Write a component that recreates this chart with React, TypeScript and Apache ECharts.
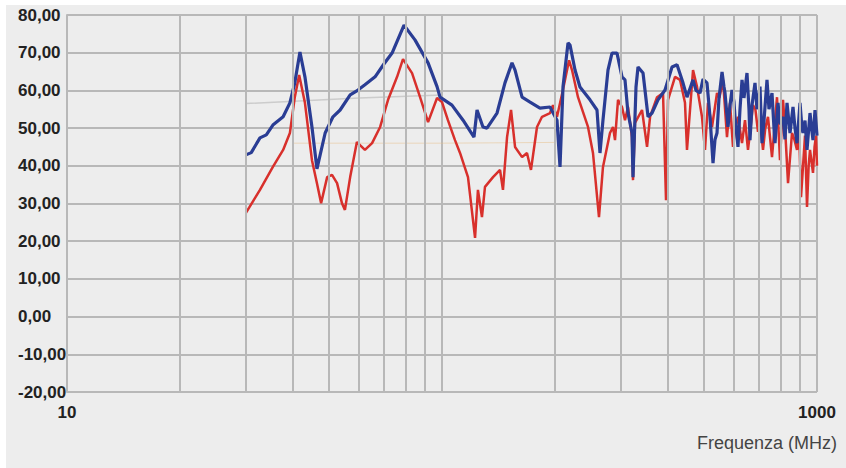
import React, { useEffect, useRef } from "react";
import * as echarts from "echarts";

// Frequency (MHz) and level values
const blueFreq = [30.0, 31.0, 32.7, 34.0, 35.4, 37.7, 39.3, 40.5, 41.8, 43.1, 45.0, 46.4, 48.8, 51.2, 53.5, 56.9, 59.7, 62.3, 66.3, 70.0, 73.6, 79.2, 84.7, 91.8, 97.0, 98.8, 106.3, 113.8, 121.7, 124.0, 128.6, 131.8, 140.2, 147.2, 153.7, 156.6, 163.5, 171.7, 182.5, 194.1, 202.6, 206.4, 210.2, 216.8, 219.5, 226.3, 233.3, 248.1, 259.0, 263.8, 268.7, 277.1, 284.0, 292.9, 302.0, 307.6, 313.3, 321.1, 323.1, 329.1, 333.2, 343.6, 354.4, 363.1, 376.7, 393.3, 410.6, 423.4, 439.2, 450.1, 467.1, 475.7, 487.5, 496.6, 508.9, 515.2, 518.4, 528.1, 534.6, 541.2, 547.9, 558.2, 564.9, 568.5, 579.0, 586.1, 593.3, 600.6, 604.4, 615.6, 623.2, 631.0, 638.6, 650.6, 658.6, 662.7, 670.9, 683.4, 691.8, 704.7, 713.4, 722.2, 735.6, 744.7, 758.6, 767.9, 772.7, 787.1, 796.8, 811.6, 821.5, 831.8, 847.3, 863.0, 873.7, 884.5, 900.9, 912.0, 917.7, 929.0, 940.5, 958.0, 969.8, 975.7, 987.8, 1000];
const blueVal = [42.9, 43.5, 47.4, 48.2, 50.8, 53.0, 56.7, 62.0, 70.2, 63.6, 50.3, 39.2, 48.7, 53.0, 54.8, 58.8, 60.1, 61.5, 63.6, 67.0, 69.9, 77.3, 73.4, 67.3, 61.0, 58.2, 56.1, 52.1, 47.6, 54.8, 50.3, 50.0, 54.0, 62.0, 67.3, 65.4, 58.2, 56.9, 55.3, 55.6, 52.1, 39.7, 60.9, 72.6, 72.0, 65.4, 60.9, 57.5, 54.8, 43.4, 52.1, 65.4, 69.9, 69.9, 63.6, 62.8, 54.0, 48.7, 37.0, 60.9, 66.2, 64.6, 53.0, 54.0, 57.5, 60.1, 66.2, 66.8, 62.0, 58.2, 62.8, 60.0, 59.3, 63.0, 62.0, 56.0, 53.0, 40.7, 47.0, 48.7, 58.0, 64.9, 61.0, 59.3, 50.3, 56.0, 60.1, 57.0, 53.0, 45.0, 55.0, 62.8, 58.0, 64.6, 55.0, 46.8, 56.0, 62.0, 55.0, 61.0, 46.0, 52.0, 62.8, 55.0, 59.3, 50.0, 46.0, 56.7, 51.0, 53.0, 47.0, 56.7, 48.7, 55.6, 50.0, 46.0, 56.7, 50.0, 48.7, 52.0, 44.2, 54.0, 49.0, 46.8, 54.8, 48.0];

const redFreq = [30.0, 32.7, 35.4, 37.7, 39.3, 40.5, 41.6, 43.1, 45.0, 46.4, 47.6, 49.4, 50.9, 52.5, 54.1, 55.1, 56.9, 59.3, 62.3, 65.1, 68.4, 71.8, 75.9, 78.7, 83.2, 87.4, 91.8, 97.0, 100, 103.7, 108.3, 111.7, 117.3, 122.5, 124.7, 127.8, 130.2, 136.8, 142.8, 145.4, 149.1, 152.8, 156.6, 163.5, 168.5, 172.7, 179.2, 184.8, 194.1, 197.7, 202.6, 210.0, 218.2, 222.2, 230.5, 245.1, 252.7, 262.2, 268.7, 280.5, 285.8, 289.3, 294.7, 302.0, 307.6, 313.3, 321.1, 323.1, 327.1, 341.5, 352.2, 358.8, 374.5, 388.5, 395.7, 400.6, 418.2, 431.2, 444.6, 450.1, 467.1, 478.6, 493.5, 502.7, 512.0, 524.8, 541.2, 549.0, 561.6, 575.4, 586.1, 597.0, 605.0, 615.6, 631.0, 642.7, 654.6, 665.0, 675.0, 685.0, 696.1, 705.0, 717.8, 728.0, 740.1, 758.6, 770.0, 782.2, 796.8, 811.6, 822.0, 837.0, 857.7, 870.0, 884.5, 895.0, 906.5, 929.0, 940.5, 950.0, 958.0, 975.7, 985.0, 993.9, 1000];
const redVal = [27.5, 33.6, 39.7, 44.2, 48.7, 58.2, 64.1, 56.7, 41.5, 35.4, 30.1, 37.0, 37.6, 35.4, 30.1, 28.3, 37.0, 46.3, 44.2, 46.0, 50.3, 57.5, 63.6, 68.3, 64.6, 58.2, 51.6, 58.0, 56.9, 52.1, 46.8, 43.4, 37.0, 20.9, 33.6, 26.4, 34.4, 37.0, 38.9, 33.6, 47.6, 54.8, 45.0, 42.3, 43.4, 38.9, 50.3, 53.0, 54.0, 56.1, 53.0, 60.0, 68.0, 65.4, 58.2, 50.3, 43.4, 26.4, 39.7, 48.7, 50.3, 46.8, 57.5, 55.6, 52.1, 55.6, 47.6, 36.2, 51.4, 54.8, 45.0, 53.0, 58.2, 59.3, 30.9, 57.5, 63.6, 62.8, 56.7, 44.2, 65.4, 61.0, 53.0, 44.2, 56.7, 50.3, 59.3, 58.0, 62.8, 47.6, 56.7, 45.0, 50.0, 53.0, 46.0, 52.1, 44.2, 50.0, 56.1, 55.0, 49.0, 52.0, 44.2, 50.0, 53.0, 42.3, 50.0, 58.2, 41.5, 57.5, 50.0, 35.4, 48.7, 47.0, 44.2, 51.0, 31.7, 48.0, 29.1, 40.0, 44.2, 38.1, 45.0, 48.0, 40.0];

// faint reference lines
const greyFreq = [30, 60, 100];
const greyVal = [56.5, 58.0, 58.8];
const orangeFreq = [40, 100, 200];
const orangeVal = [46.0, 46.0, 46.2];

const minorGridFreq = [20, 30, 40, 50, 60, 70, 80, 90, 200, 300, 400, 500, 600, 700, 800, 900];

const xTickLabels = [10, 1000];

const zip = (a: number[], b: number[]) => a.map((v, i) => [v, b[i]]);

export default function App() {
  const ref = useRef<HTMLDivElement>(null);
  useEffect(() => {
    if (!ref.current) return;
    const chart = echarts.init(ref.current, null, { renderer: "svg" });
    const gridColor = "#b8b8b8";
    chart.setOption({
      animation: false,
      backgroundColor: "#ededed",
      grid: { left: 61, top: 10, right: 29, bottom: 76 },
      xAxis: {
        type: "log",
        logBase: 10,
        min: 10,
        max: 1000,
        axisLine: { show: true, lineStyle: { color: gridColor, width: 2 } },
        axisTick: { show: false },
        splitLine: { show: true, lineStyle: { color: gridColor, width: 2 } },
        axisLabel: {
          margin: 12,
          fontSize: 17,
          fontWeight: "bold",
          fontFamily: "Liberation Sans, Arial, sans-serif",
          color: "#222",
          formatter: (v: number) => (xTickLabels.includes(Math.round(v)) ? String(Math.round(v)) : ""),
        },
      },
      yAxis: {
        type: "value",
        min: -20,
        max: 80,
        interval: 10,
        axisLine: { show: true, lineStyle: { color: gridColor, width: 2 } },
        axisTick: { show: false },
        splitLine: { show: true, lineStyle: { color: gridColor, width: 2 } },
        axisLabel: {
          align: "left",
          margin: 49,
          fontSize: 17,
          fontWeight: "bold",
          fontFamily: "Liberation Sans, Arial, sans-serif",
          color: "#222",
          formatter: (v: number) => v.toFixed(2).replace(".", ","),
        },
      },
      graphic: [
        {
          type: "text",
          right: 9,
          top: 429,
          style: {
            text: "Frequenza (MHz)",
            fontSize: 18,
            fontFamily: "Liberation Sans, Arial, sans-serif",
            fill: "#444",
          },
        },
      ],
      series: [
        {
          type: "line",
          data: [[10, -20]],
          symbol: "none",
          lineStyle: { opacity: 0 },
          silent: true,
          z: 1,
          markLine: {
            silent: true,
            symbol: "none",
            label: { show: false },
            lineStyle: { color: gridColor, width: 2, type: "solid" },
            data: minorGridFreq.map((f) => ({ xAxis: f })),
          },
        },
        {
          type: "line",
          data: zip(greyFreq, greyVal),
          symbol: "none",
          silent: true,
          z: 2,
          lineStyle: { color: "#b0b0b0", width: 1.5, opacity: 0.55 },
        },
        {
          type: "line",
          data: zip(orangeFreq, orangeVal),
          symbol: "none",
          silent: true,
          z: 2,
          lineStyle: { color: "#e8c08a", width: 1, opacity: 0.5 },
        },
        {
          type: "line",
          data: zip(redFreq, redVal),
          symbol: "none",
          z: 3,
          lineStyle: { color: "#d8302c", width: 2.5 },
        },
        {
          type: "line",
          data: zip(blueFreq, blueVal),
          symbol: "none",
          z: 4,
          lineStyle: { color: "#2a3d94", width: 3.2 },
        },
      ],
    });
    return () => chart.dispose();
  }, []);
  return (
    <div style={{ position: "fixed", left: 0, top: 0, width: 846, height: 468, background: "#ffffff" }}>
      <div ref={ref} style={{ position: "absolute", left: 6, top: 5, width: 840, height: 463 }} />
    </div>
  );
}
